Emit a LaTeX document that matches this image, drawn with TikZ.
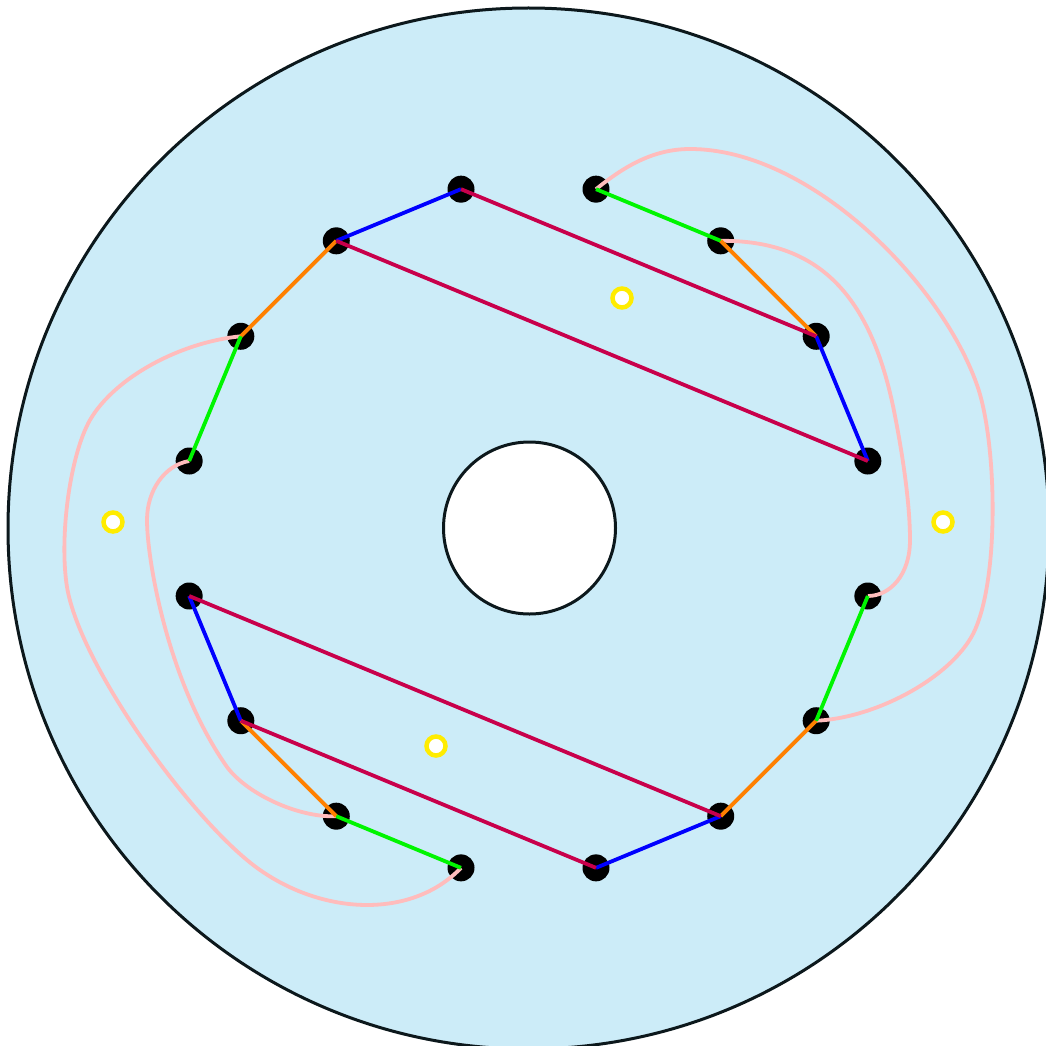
\documentclass[tikz,border=0pt]{standalone}
\definecolor{disc}{RGB}{204,236,248}
\definecolor{crim}{RGB}{200,0,75}
\definecolor{pinkw}{RGB}{255,188,188}
\definecolor{orng}{RGB}{255,128,0}
\definecolor{grn}{RGB}{0,245,0}
\definecolor{blu}{RGB}{0,0,255}
\definecolor{ylw}{RGB}{255,236,0}
\definecolor{rim}{RGB}{12,24,28}
\begin{document}
\begin{tikzpicture}[x=1pt,y=-1pt,
  dot/.style={circle, fill=black, inner sep=0pt, minimum size=27pt},
  marker/.style={circle, draw=ylw, fill=white, line width=4.5pt, inner sep=0pt, minimum size=19pt},
  wire/.style={line width=3.8pt},
  bluew/.style={wire, draw=blu},
  orangew/.style={wire, draw=orng},
  greenw/.style={wire, draw=grn},
  crimw/.style={wire, draw=crim},
  endw/.style={line width=3.8pt, draw=pinkw}
]
\useasboundingbox (0,0) rectangle (1046,1046);
% disc and hole
\draw[line width=3pt, draw=rim, fill=disc] (528.5,528.5) circle[radius=520.5];
\draw[line width=3pt, draw=rim, fill=white] (529.5,528) circle[radius=86];
% slots
\foreach \i in {0,...,15}
  \node[dot] (p\i) at ({528.5+346*cos(11.25+22.5*\i)}, {528.5-346*sin(11.25+22.5*\i)}) {};
% markers
\node[marker] (m1) at (622,298) {};
\node[marker] (m2) at (943,522) {};
\node[marker] (m3) at (113,522) {};
\node[marker] (m4) at (436,746) {};
% end connections
\draw[endw] (p3.center) .. controls (620,170) and (650,149) .. (690,149)
  .. controls (810,149) and (941,282) .. (977,385)
  .. controls (997,441) and (1000,581) .. (973,634)
  .. controls (950,678) and (876,718) .. (p14.center);
\draw[endw] (p2.center) .. controls (821,240) and (870,298) .. (893,406)
  .. controls (901,445) and (910,500) .. (910,540)
  .. controls (910,575) and (890,596) .. (p15.center);
\draw[endw] (p6.center) .. controls (181,342) and (115,377) .. (90,420)
  .. controls (70,455) and (59,537) .. (67,587)
  .. controls (80,666) and (194,824) .. (260,870)
  .. controls (326,916) and (413,918) .. (p11.center);
\draw[endw] (p7.center) .. controls (165,465) and (147,490) .. (147,520)
  .. controls (147,560) and (168,683) .. (227,767)
  .. controls (248,795) and (300,818) .. (p10.center);
% phase connections
\draw[bluew] (p4.center) -- (p5.center);
\draw[orangew] (p5.center) -- (p6.center);
\draw[greenw] (p6.center) -- (p7.center);
\draw[greenw] (p3.center) -- (p2.center);
\draw[orangew] (p2.center) -- (p1.center);
\draw[bluew] (p1.center) -- (p0.center);
\draw[bluew] (p8.center) -- (p9.center);
\draw[orangew] (p9.center) -- (p10.center);
\draw[greenw] (p10.center) -- (p11.center);
\draw[bluew] (p12.center) -- (p13.center);
\draw[orangew] (p13.center) -- (p14.center);
\draw[greenw] (p14.center) -- (p15.center);
\draw[crimw] (p4.center) -- (p1.center);
\draw[crimw] (p5.center) -- (p0.center);
\draw[crimw] (p8.center) -- (p13.center);
\draw[crimw] (p9.center) -- (p12.center);
\end{tikzpicture}
\end{document}
